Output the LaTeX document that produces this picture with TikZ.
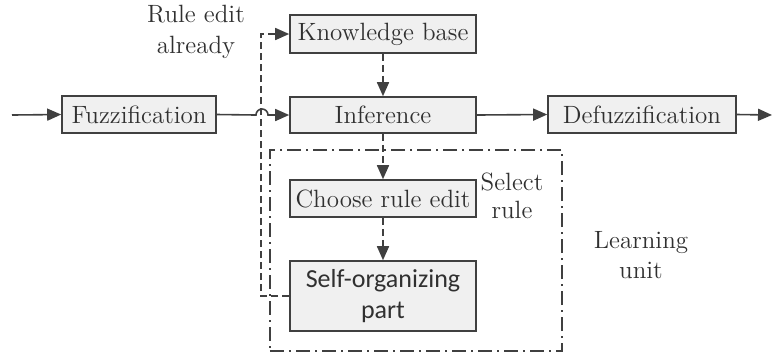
\documentclass[tikz,border=0pt]{standalone}
\usepackage{fontspec}
\newfontfamily\calfont{Carlito}
\usetikzlibrary{arrows.meta}
\definecolor{txt}{HTML}{303030}
\definecolor{ln}{HTML}{404040}
\begin{document}
\begin{tikzpicture}[x=0.5bp,y=-0.5bp,
  font=\rmfamily\fontsize{12.5bp}{15.5bp}\selectfont,
  box/.style={draw=ln,line width=0.8bp,fill=gray!12,text=txt,inner sep=0pt,minimum width=93bp,minimum height=18.5bp,align=center},
  lbl/.style={text=txt,align=center,inner sep=0pt},
  conn/.style={draw=ln,line width=0.8bp,-{Triangle[length=7bp,width=6bp]}},
  dsh/.style={dash pattern=on 3.5bp off 2bp}]
\useasboundingbox (0,0) rectangle (777,360);
% learning unit frame
\node[draw=ln,line width=0.75bp,dash pattern=on 7bp off 2.5bp on 1bp off 2.5bp,minimum width=146bp,minimum height=100.5bp,inner sep=0pt] (lu) at (416,250.5) {};
% boxes
\node[box,minimum width=77bp] (fuz) at (139,114.5) {Fuzzification};
\node[box,minimum height=19bp] (kb) at (383,34) {Knowledge base};
\node[box,minimum height=18bp] (inf) at (383,115) {Inference};
\node[box,minimum width=94bp] (def) at (642,114.5) {Defuzzification};
\node[box] (cho) at (383,198.5) {Choose rule edit};
\node[box,minimum height=35bp,font=\calfont\fontsize{13bp}{15.5bp}\selectfont] (self) at (383,296) {Self-organizing\\part};
% labels
\node[lbl] (re) at (196,32) {Rule edit\\already};
\node[lbl,font=\rmfamily\fontsize{12.5bp}{14bp}\selectfont] (sr) at (512,196) {Select\\rule};
\node[lbl,font=\rmfamily\fontsize{12.5bp}{15bp}\selectfont] (lun) at (641,255) {Learning\\unit};
% connectors
\coordinate (in) at (12,115);
\coordinate (out) at (772,115);
\coordinate (hopl) at (256,115);
\draw[conn] (in) -- (fuz.west);
\draw[conn] (fuz.east) -- (hopl) arc[start angle=180,end angle=360,radius=6] -- (inf.west);
\draw[conn] (inf.east) -- (def.west);
\draw[conn] (def.east) -- (out);
\draw[conn,dsh] (kb.south) -- (inf.north);
\draw[conn,dsh] (inf.south) -- (cho.north);
\draw[conn,dsh] (cho.south) -- (self.north);
\draw[conn,dsh] (self.west) -- ++(-28,0) |- (kb.west);
\end{tikzpicture}
\end{document}
